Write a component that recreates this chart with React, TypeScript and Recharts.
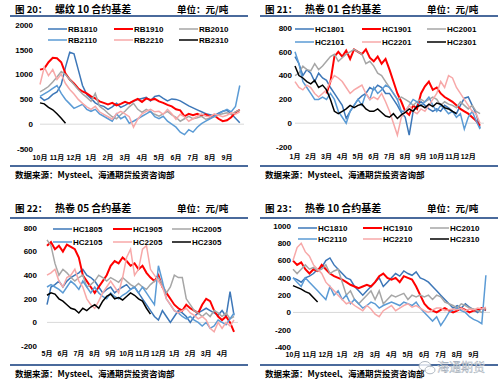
import React from "react";
import { Line, LineChart, ReferenceLine, XAxis, YAxis } from "recharts";

// ---- 螺纹 10 合约 (10月 -> 9月, 4 points per month)
const rbMonths = ["10月", "11月", "12月", "1月", "2月", "3月", "4月", "5月", "6月", "7月", "8月", "9月"];
const rb1810 = [550, 480, 520, 600, 650, 800, 1150, 1450, 1420, 1100, 780, 600, 520, 430, 380, 360, 300, 350, 420, 340, 380, 430, 460, 500, 520, 540, 470, 560, 580, 520, 470, 510, 500, 470, 420, 370, 330, 290, 250, 210, 190, 170, 220, 260, 280, 210, 120, 30];
const rb1910 = [1100, 1120, 1250, 1340, 1330, 1250, 1020, 900, 820, 720, 660, 620, 560, 520, 460, 430, 400, 430, 380, 410, 450, 420, 470, 510, 450, 520, 490, 510, 460, 430, 390, 360, 300, 280, 160, 210, 180, 210, 170, 200, 150, 180, 110, 60, 80, 140, 240, 290];
const rb2010 = [650, 700, 760, 850, 950, 1060, 1000, 900, 800, 700, 610, 540, 460, 620, 360, 300, 220, 150, 110, 190, 260, 350, 420, 300, 240, 300, 250, 200, 160, 210, 260, 190, 140, 60, 110, 160, 110, 130, 160, 100, 120, 150, 190, 210, 230, 200, 250, 290];
const rb2110 = [560, 610, 660, 720, 780, 620, 500, 410, 320, 360, 400, 300, 260, 300, 210, 160, 110, 60, 210, 110, 160, 20, 60, 110, 160, 210, 260, 150, 110, 160, 60, 0, -60, -160, -210, -110, -160, -60, 10, 60, 110, 160, 210, 260, 300, 250, 360, 780];
const rb2210 = [800, 1150, 980, 1100, 900, 1010, 820, 700, 610, 500, 420, 350, 300, 360, 250, 200, 150, 100, 210, 260, 210, 150, -60, 100, 210, 260, 300, 250, 260, 200, 300, 210, 100, 200, 150, 60, 110, 160, 210, 160, 150, 210, 180, 150, 180, 230, 200, 250];
const rb2310 = [430, 410, 340, 290, 210, 120, 20];

// ---- 热卷 01 合约 (1月 -> 12月)
const hc01Months = ["1月", "2月", "3月", "4月", "5月", "6月", "7月", "8月", "9月", "10月", "11月", "12月"];
const hc1801 = [560, 500, 400, 450, 420, 350, 420, 380, 360, 300, 250, 200, 150, 40, 100, 150, 200, 230, 250, 300, 280, 320, 300, 250, 250, 200, 150, 90, 50, -100, 100, 150, 180, 150, 120, 100, 120, 100, 150, 130, 100, 80, 150, 210, 220, 150, 80, -40];
const hc1901 = [null, null, null, null, null, null, null, null, 250, 350, 560, 600, 560, 610, 540, 620, 600, 580, 620, 550, 520, 560, 500, 540, 450, 350, 250, 180, 100, 70, 150, 120, 250, 310, 350, 280, 300, 250, 220, 200, 180, 150, 120, 100, 80, 50, 20, -20];
const hc2001 = [400, 420, 480, 450, 440, 500, 450, 480, 520, 560, 580, 520, 550, 580, 600, 620, 600, 580, 500, 520, 480, 420, 400, 350, 300, 250, 200, 220, 200, 180, 150, 180, 200, 180, 200, 220, 200, 150, 180, 160, 150, 130, 180, 150, 120, 150, 100, 80];
const hc2101 = [600, 500, 350, 300, 250, 200, 200, 220, 200, 250, 200, 100, 50, 0, 100, 150, 200, 150, 250, 200, 300, 250, 280, 320, 300, 250, 200, 100, 100, 150, 200, 180, 150, 180, 220, 150, 100, 150, 120, 80, 100, 50, 80, -50, 50, 100, 20, -50];
const hc2201 = [350, 300, 280, 320, 300, 250, 220, 250, 280, 350, 400, 380, 350, 300, 250, 280, 300, 320, 250, 200, 220, 200, 250, 180, 100, 0, -100, 50, 100, 150, 100, 80, 120, 100, 150, 200, 250, 350, 300, 400, 380, 300, 250, 200, 150, 100, 80, 0];
const hc2301 = [480, 400, 380, 350, 330, 360, 300, 320, 280, 200, 100, 80, 100, 120, 150, 130, 150, 160, 120, 100, 100, 120, 90, 60, 50, 80, 40, 70, 90, 120, 100, 140, 150, 130, 160, 140, 170, 160, 130, 120, 100, 80];

// ---- 热卷 05 合约 (5月 -> 4月)
const hc05Months = ["5月", "6月", "7月", "8月", "9月", "10月", "11月", "12月", "1月", "2月", "3月", "4月"];
const hc1805 = [150, 300, 320, 350, 300, 350, 380, 400, 420, 450, 400, 380, 350, 300, 250, 280, 300, 250, 280, 300, 320, 280, 300, 250, 200, 150, 100, 50, 20, 100, 50, 0, 50, 100, 80, 50, 0, 50, 80, 100, 120, 100, 80, 60, 100, 50, 260, 60];
const hc1905 = [650, 680, 620, 650, 600, 660, 640, 620, 550, 400, 350, 300, 250, 300, 350, 400, 480, 520, 500, 550, 520, 480, 500, 450, 480, 420, 380, 350, 400, 300, 250, 200, 150, 120, 100, 150, 120, 100, 80, 150, 200, 180, 100, 50, 20, 50, 0, -80];
const hc2005 = [700, 650, 500, 400, 450, 420, 380, 350, 380, 400, 300, 320, 350, 400, 380, 350, 380, 360, 340, 380, 350, 320, 300, 330, 300, 280, 320, 350, 380, 320, 250, 300, 400, 380, 380, 200, 150, 100, 80, 50, 80, 50, 100, 80, 50, 80, 30, 50];
const hc2105 = [300, 320, 300, 280, 250, 300, 350, 320, 280, 350, 300, 250, 300, 250, 220, 200, 250, 220, 200, 230, 250, 280, 300, 250, 300, 250, 200, 150, 480, 350, 200, 150, 100, 80, 50, 30, 50, 20, 0, -30, 0, -50, -30, 20, 0, -20, 30, 80];
const hc2205 = [400, 420, 450, 350, 300, 380, 400, 450, 350, 300, 200, 150, 120, 180, 250, 300, 350, 300, 250, 380, 550, 620, 400, 450, 620, 650, 450, 400, 350, 300, 200, 150, 100, 80, 100, 120, 80, 60, 30, 50, 20, -50, -80, 0, -50, 0, -30, 20];
const hc2305 = [230, 250, 240, 200, 180, 150, 120, 110, 80, 120, 100, 130, 150, 120, 180, 220, 240, 200, 210, 190, 220, 250, 230, 200, 180, 120, 70];

// ---- 热卷 10 合约 (10月 -> 9月)
const hc10Months = rbMonths;
const hc1810 = [400, 380, 350, 400, 420, 450, 500, 520, 600, 630, 550, 500, 450, 400, 380, 300, 250, 200, 250, 300, 350, 400, 300, 350, 400, 450, 420, 480, 450, 430, 470, 400, 380, 350, 300, 250, 200, 150, 100, 50, 80, 50, 100, 60, 30, 0, 50, 20];
const hc1910 = [600, 550, 580, 500, 450, 500, 480, 550, 500, 450, 420, 400, 380, 350, 320, 300, 280, 300, 320, 300, 350, 420, 450, 400, 380, 400, 350, 420, 400, 380, 300, 200, 100, 50, 20, 0, 30, 50, 20, 0, 20, 50, 30, 0, 20, 30, 50, 30];
const hc2010 = [500, 450, 500, 550, 500, 520, 480, 500, 550, 450, 480, 500, 350, 200, 250, 150, 100, 150, 200, 250, 150, 250, 100, 150, 200, 180, 200, 220, 150, 200, 180, 200, 180, 200, 150, 200, 180, 120, 100, 80, 50, 100, 80, 50, 40, 20, 0, 50];
const hc2110 = [400, 350, 300, 400, 350, 300, 250, 200, 150, 300, 200, 250, 150, 200, 100, 150, 100, 50, 80, 120, 100, 50, 80, 100, 120, 100, 80, 120, 100, 80, 120, 50, 0, -50, -100, -50, -150, -80, 0, 30, 50, 20, 0, -50, -80, -100, -130, 430];
const hc2210 = [600, 750, 800, 700, 650, 550, 500, 450, 350, 300, 250, 200, 150, 100, 120, 80, 50, 20, 80, 40, -20, -50, 20, 50, 80, 20, 50, 80, 100, 60, 80, 50, 20, 0, 30, 50, 50, 20, 30, 40, 30, 50, 20, 40, 30, 50, 40, 60];
const hc2310 = [310, 290, 270, 240, 220, 170, 120];

const COLORS = ["#3d77b8", "#ff0000", "#a6a6a6", "#5b9bd5", "#f7a8a8", "#000000"];
const WIDTHS = [1.5, 2, 1.5, 1.5, 1.5, 1.5];
const FRAME = "#4a6a9c";
const TICK_FONT = "'Liberation Sans', Arial, 'Noto Sans CJK SC', sans-serif";
const CJK_FONT = "'Noto Sans CJK SC', sans-serif";

type Series = { name: string; values: (number | null)[] };

interface PanelSpec {
  left: number;
  top: number;
  fig: string;
  title: string;
  titleY: number;
  topLineY: number;
  plotLeft: number;
  plotRight: number;
  plotTop: number;
  plotBottom: number;
  domain: [number, number];
  yTicks: number[];
  yGap: number;
  xLabelY: number;
  bottomLineY: number;
  sourceY: number;
  months: string[];
  series: Series[];
  legendRows: [number, number];
  legendCols: [number, number, number];
}

const buildRows = (series: Series[]) => {
  const rows = [];
  for (let i = 0; i < 48; i++) {
    const row: Record<string, number | null> = { x: i };
    series.forEach((s, k) => {
      row["s" + k] = i < s.values.length ? s.values[i] : null;
    });
    rows.push(row);
  }
  return rows;
};

const monthTicks = Array.from({ length: 12 }, (_, i) => i * 4);

const Panel = ({ p }: { p: PanelSpec }) => {
  const rows = buildRows(p.series);
  const chartH = p.bottomLineY - 1;
  return (
    <div style={{ position: "absolute", left: p.left, top: p.top, width: 250, height: 194 }}>
      <div style={{ position: "absolute", left: 15, top: p.titleY - 7, fontFamily: CJK_FONT, fontWeight: 700, fontSize: 9.5, lineHeight: "14px", whiteSpace: "nowrap" }}>
        {p.fig}
      </div>
      <div style={{ position: "absolute", left: 55, top: p.titleY - 7, fontFamily: CJK_FONT, fontWeight: 700, fontSize: 10, lineHeight: "14px", whiteSpace: "nowrap" }}>
        {p.title}
      </div>
      <div style={{ position: "absolute", left: 177, top: p.titleY - 7, fontFamily: CJK_FONT, fontWeight: 700, fontSize: 9.5, lineHeight: "14px", whiteSpace: "nowrap" }}>
        单位：元/吨
      </div>
      <div style={{ position: "absolute", left: 10, top: p.topLineY - 1, width: 238, height: 2, background: FRAME }} />
      <div style={{ position: "absolute", left: 0, top: 0 }}>
        <LineChart
          width={250}
          height={chartH}
          data={rows}
          margin={{ top: p.plotTop, right: 250 - p.plotRight, bottom: 0, left: 0 }}
        >
          <XAxis
            type="number"
            dataKey="x"
            domain={[0, 48]}
            ticks={monthTicks}
            interval={0}
            tickFormatter={(v: number) => p.months[Math.round(v / 4)]}
            axisLine={false}
            tickLine={false}
            tickSize={0}
            tickMargin={p.xLabelY - 2.5 - p.plotBottom}
            height={chartH - p.plotBottom}
            tick={{ fontSize: 7, fill: "#000", fontWeight: 700, fontFamily: TICK_FONT }}
          />
          <YAxis
            type="number"
            domain={p.domain}
            ticks={p.yTicks}
            interval={0}
            width={p.plotLeft}
            axisLine={false}
            tickLine={false}
            tickSize={0}
            tickMargin={p.yGap}
            tick={{ fontSize: 8, fill: "#000", fontWeight: 700, fontFamily: TICK_FONT }}
          />
          <ReferenceLine y={0} stroke="#d9d9d9" strokeWidth={1} />
          {p.series.map((s, k) => (
            <Line
              key={s.name}
              type="linear"
              dataKey={"s" + k}
              name={s.name}
              stroke={COLORS[k]}
              strokeWidth={WIDTHS[k]}
              dot={false}
              connectNulls={false}
              isAnimationActive={false}
            />
          ))}
        </LineChart>
      </div>
      <svg width={250} height={60} style={{ position: "absolute", left: 0, top: 0 }}>
        {p.series.map((s, k) => {
          const x = p.legendCols[k % 3];
          const y = p.legendRows[Math.floor(k / 3)];
          return (
            <g key={s.name}>
              <line x1={x} x2={x + 19} y1={y} y2={y} stroke={COLORS[k]} strokeWidth={WIDTHS[k]} />
              <text x={x + 20} y={y} dy="0.35em" fontSize={8} fontWeight={700} fontFamily={TICK_FONT} fill="#000">
                {s.name}
              </text>
            </g>
          );
        })}
      </svg>
      <div style={{ position: "absolute", left: 10, top: p.bottomLineY - 1, width: 238, height: 2, background: FRAME }} />
      <div style={{ position: "absolute", left: 15, top: p.sourceY - 6, fontFamily: CJK_FONT, fontWeight: 700, fontSize: 8.5, lineHeight: "12px", whiteSpace: "nowrap" }}>
        数据来源：Mysteel、海通期货投资咨询部
      </div>
    </div>
  );
};

const panels: PanelSpec[] = [
  {
    left: 0, top: 0, fig: "图 20：", title: "螺纹 10 合约基差", titleY: 9, topLineY: 16,
    plotLeft: 40, plotRight: 244, plotTop: 25, plotBottom: 149,
    domain: [-500, 2000], yTicks: [-500, 0, 500, 1000, 1500, 2000], yGap: 7,
    xLabelY: 158, bottomLineY: 166, sourceY: 174, months: rbMonths,
    series: [
      { name: "RB1810", values: rb1810 }, { name: "RB1910", values: rb1910 }, { name: "RB2010", values: rb2010 },
      { name: "RB2110", values: rb2110 }, { name: "RB2210", values: rb2210 }, { name: "RB2310", values: rb2310 },
    ],
    legendRows: [29, 40], legendCols: [48, 114, 179],
  },
  {
    left: 250, top: 0, fig: "图 21：", title: "热卷 01 合约基差", titleY: 9, topLineY: 16,
    plotLeft: 45, plotRight: 234, plotTop: 28, plotBottom: 147,
    domain: [-200, 800], yTicks: [-200, 0, 200, 400, 600, 800], yGap: 3,
    xLabelY: 157, bottomLineY: 166, sourceY: 174, months: hc01Months,
    series: [
      { name: "HC1801", values: hc1801 }, { name: "HC1901", values: hc1901 }, { name: "HC2001", values: hc2001 },
      { name: "HC2101", values: hc2101 }, { name: "HC2201", values: hc2201 }, { name: "HC2301", values: hc2301 },
    ],
    legendRows: [29, 42], legendCols: [45, 112, 177],
  },
  {
    left: 0, top: 195, fig: "图 22：", title: "热卷 05 合约基差", titleY: 13, topLineY: 23,
    plotLeft: 47, plotRight: 238, plotTop: 33, plotBottom: 151,
    domain: [-200, 800], yTicks: [-200, 0, 200, 400, 600, 800], yGap: 10,
    xLabelY: 159, bottomLineY: 170, sourceY: 178, months: hc05Months,
    series: [
      { name: "HC1805", values: hc1805 }, { name: "HC1905", values: hc1905 }, { name: "HC2005", values: hc2005 },
      { name: "HC2105", values: hc2105 }, { name: "HC2205", values: hc2205 }, { name: "HC2305", values: hc2305 },
    ],
    legendRows: [34, 47], legendCols: [53, 113, 172],
  },
  {
    left: 250, top: 195, fig: "图 23：", title: "热卷 10 合约基差", titleY: 13, topLineY: 23,
    plotLeft: 43, plotRight: 240, plotTop: 31, plotBottom: 152,
    domain: [-400, 1000], yTicks: [-400, -200, 0, 200, 400, 600, 800, 1000], yGap: 2,
    xLabelY: 160, bottomLineY: 170, sourceY: 178, months: hc10Months,
    series: [
      { name: "HC1810", values: hc1810 }, { name: "HC1910", values: hc1910 }, { name: "HC2010", values: hc2010 },
      { name: "HC2110", values: hc2110 }, { name: "HC2210", values: hc2210 }, { name: "HC2310", values: hc2310 },
    ],
    legendRows: [33, 44], legendCols: [48, 113, 180],
  },
];

export default function App() {
  return (
    <div style={{ position: "absolute", left: 0, top: 0, width: 500, height: 388, background: "#fff", overflow: "hidden" }}>
      {panels.map((p) => (
        <Panel key={p.fig} p={p} />
      ))}
      <svg width={20} height={16} style={{ position: "absolute", left: 417, top: 360 }}>
        <ellipse cx={8} cy={6} rx={6} ry={4.5} fill="rgba(255,255,255,0.8)" stroke="#9aa6b2" strokeWidth={0.8} />
        <ellipse cx={13} cy={10} rx={5} ry={3.8} fill="rgba(255,255,255,0.8)" stroke="#9aa6b2" strokeWidth={0.8} />
      </svg>
      <div
        style={{
          position: "absolute",
          left: 437,
          top: 360,
          fontFamily: CJK_FONT,
          fontSize: 12,
          color: "rgba(255,255,255,0.85)",
          WebkitTextStroke: "0.4px #9aa6b2",
          whiteSpace: "nowrap",
          lineHeight: "14px",
        }}
      >
        海通期货
      </div>
    </div>
  );
}
